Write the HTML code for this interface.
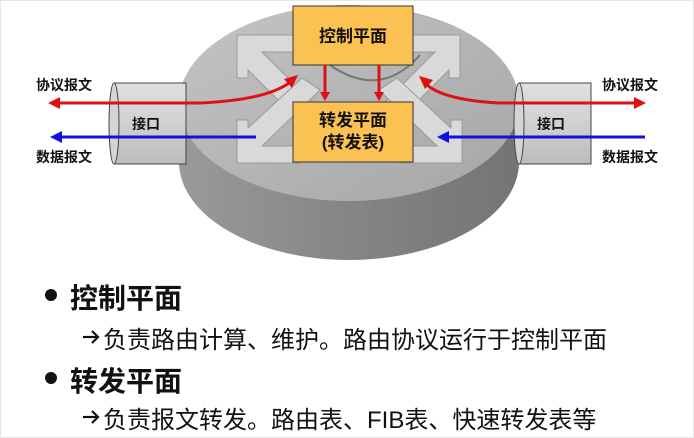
<!DOCTYPE html>
<html><head><meta charset="utf-8"><style>
html,body{margin:0;padding:0;background:#fff;}
body{width:694px;height:438px;overflow:hidden;position:relative;font-family:"Liberation Sans","Noto Sans CJK SC",sans-serif;}
.t{position:absolute;white-space:nowrap;color:#111;font-weight:bold;}
</style></head><body>
<svg width="694" height="438" style="position:absolute;left:0;top:0">
<defs>
<linearGradient id="cyl" x1="0" x2="1" y1="0" y2="0">
<stop offset="0" stop-color="#9a9a9a"/><stop offset="0.5" stop-color="#858585"/><stop offset="1" stop-color="#747474"/></linearGradient>
<linearGradient id="top" x1="0" x2="1" y1="0" y2="1">
<stop offset="0" stop-color="#c4c4c4"/><stop offset="1" stop-color="#a6a6a6"/></linearGradient>
<linearGradient id="ifc" x1="0" x2="0" y1="0" y2="1">
<stop offset="0" stop-color="#e0e0e0"/><stop offset="0.5" stop-color="#d0d0d0"/><stop offset="1" stop-color="#bcbcbc"/></linearGradient>
</defs>
<rect x="0.5" y="0.5" width="693" height="437" fill="none" stroke="#e6e6e6"/>
<path d="M179,103 L179,162 A170,98 0 0 0 519,162 L519,103 Z" fill="url(#cyl)"/>
<ellipse cx="349" cy="103" rx="170" ry="98" fill="url(#top)"/>
<g fill="#d9d9d9" stroke="#9a9a9a" stroke-width="1">
<polygon points="237,35 300,35 300,52 262,52 330,120 312,134 248,70 248,78 237,78"/>
<polygon points="460,35 397,35 397,52 435,52 367,120 385,134 449,70 449,78 460,78"/>
<polygon points="237,163 300,163 300,146 262,146 320,90 302,78 248,128 248,120 237,120"/>
<polygon points="462,163 399,163 399,146 437,146 379,90 397,78 451,128 451,120 462,120"/>
</g>
<path d="M330,65 Q380,100 420,55" fill="none" stroke="#777" stroke-width="2"/>
<rect x="293" y="6" width="120" height="59" fill="#fcc153" stroke="#333" stroke-width="1"/>
<rect x="293" y="102" width="120" height="60" fill="#fcc153" stroke="#333" stroke-width="1"/>
<g>
<rect x="114" y="83" width="72" height="81" fill="url(#ifc)" stroke="#444"/>
<ellipse cx="114" cy="123.5" rx="5" ry="40.5" fill="#d4d4d4" stroke="#444"/>
<rect x="519" y="83" width="72" height="81" fill="url(#ifc)" stroke="#444"/>
<ellipse cx="519" cy="123.5" rx="5" ry="40.5" fill="#d4d4d4" stroke="#444"/>
</g>
<g stroke="#d11" stroke-width="3" fill="none">
<path d="M58,103 L200,103 Q270,100 293,80"/>
<path d="M636,103 L500,103 Q440,100 424,82"/>
<line x1="325" y1="65" x2="325" y2="94"/>
<line x1="379" y1="65" x2="379" y2="94"/>
</g>
<g fill="#d11">
<polygon points="48,103 60,97 60,109"/>
<polygon points="646,103 634,97 634,109"/>
<polygon points="298,75 284,79 292,88"/>
<polygon points="419,76 433,80 425,89"/>
<polygon points="325,101 320,92 330,92"/>
<polygon points="379,101 374,92 384,92"/>
</g>
<g stroke="#1010e0" stroke-width="3" fill="none">
<line x1="60" y1="137" x2="256" y2="137"/>
<line x1="645" y1="137" x2="447" y2="137"/>
</g>
<g fill="#1010e0">
<polygon points="50,137 62,131 62,143"/>
<polygon points="437,137 449,131 449,143"/>
</g>
<circle cx="51" cy="295" r="6" fill="#111"/>
<circle cx="51" cy="378" r="6" fill="#111"/>
<!-- bold arrows before sublines -->
<g stroke="#111" stroke-width="2.2" fill="none">
<line x1="83" y1="337" x2="98" y2="337"/><polyline points="92,331 98,337 92,343"/>
<line x1="83" y1="417" x2="98" y2="417"/><polyline points="92,411 98,417 92,423"/>
</g>
</svg>
<div class="t" style="left:293px;top:22px;width:120px;text-align:center;font-size:17px;">控制平面</div>
<div class="t" style="left:293px;top:110px;width:120px;text-align:center;font-size:17px;line-height:22px;">转发平面<br>(转发表)</div>
<div class="t" style="left:132px;top:114px;font-size:14px;">接口</div>
<div class="t" style="left:537px;top:114px;font-size:14px;">接口</div>
<div class="t" style="left:36px;top:75px;font-size:14px;">协议报文</div>
<div class="t" style="left:36px;top:147px;font-size:14px;">数据报文</div>
<div class="t" style="left:602px;top:75px;font-size:14px;">协议报文</div>
<div class="t" style="left:602px;top:147px;font-size:14px;">数据报文</div>
<div class="t" style="left:70px;top:277px;font-size:28px;">控制平面</div>
<div class="t" style="left:103px;top:320px;font-size:24px;font-weight:normal;">负责路由计算、维护。路由协议运行于控制平面</div>
<div class="t" style="left:70px;top:360px;font-size:28px;">转发平面</div>
<div class="t" style="left:103px;top:400px;font-size:24px;font-weight:normal;">负责报文转发。路由表、FIB表、快速转发表等</div>
</body></html>
